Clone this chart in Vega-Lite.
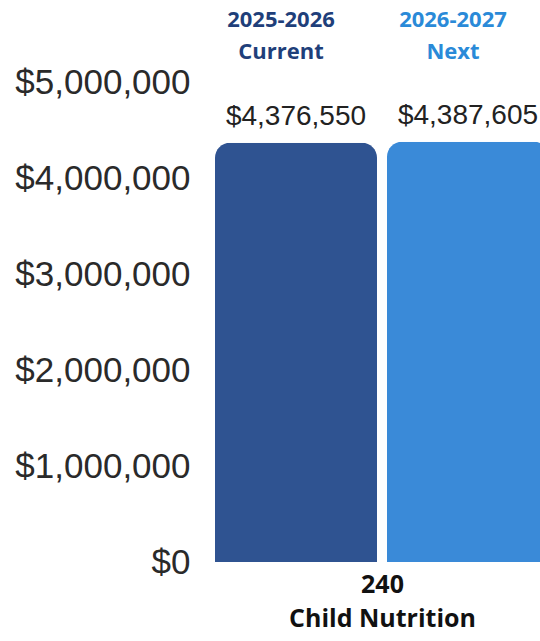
{
  "$schema": "https://vega.github.io/schema/vega-lite/v6.json",
  "autosize": {"type": "none"},
  "width": 335,
  "height": 562,
  "padding": {"left": 205, "top": 0, "right": 0, "bottom": 79},
  "background": "white",
  "config": {"view": {"stroke": null}},
  "data": {
    "values": [
      {"year": "2025-2026", "label": "Current", "amount": 4376550},
      {"year": "2026-2027", "label": "Next", "amount": 4387605}
    ]
  },
  "encoding": {
    "x": {
      "field": "year",
      "type": "nominal",
      "sort": null,
      "scale": {"range": [10, 344], "paddingInner": 0.058, "paddingOuter": 0},
      "axis": {
        "title": ["240", "Child Nutrition"],
        "labels": false,
        "ticks": false,
        "domain": false,
        "titleFont": "Open Sans",
        "titleFontWeight": "bold",
        "titleFontSize": 25,
        "titleColor": "#111111",
        "titleLineHeight": 34,
        "titlePadding": 10
      }
    }
  },
  "layer": [
    {
      "mark": {"type": "bar", "cornerRadiusTopLeft": 15, "cornerRadiusTopRight": 15},
      "encoding": {
        "y": {
          "field": "amount",
          "type": "quantitative",
          "scale": {"domain": [0, 5866000], "nice": false},
          "axis": {
            "title": null,
            "values": [0, 1000000, 2000000, 3000000, 4000000, 5000000],
            "format": "$,.0f",
            "grid": false,
            "domain": false,
            "ticks": false,
            "labelPadding": 15,
            "labelFont": "Liberation Sans",
            "labelFontSize": 35,
            "labelColor": "#2a2a2a"
          }
        },
        "color": {
          "field": "year",
          "type": "nominal",
          "scale": {"domain": ["2025-2026", "2026-2027"], "range": ["#2f5391", "#3a8ad8"]},
          "legend": null
        }
      }
    },
    {
      "mark": {"type": "text", "font": "Liberation Sans", "fontSize": 28, "color": "#222222", "baseline": "alphabetic", "dy": -18},
      "encoding": {
        "y": {"field": "amount", "type": "quantitative"},
        "text": {"field": "amount", "type": "quantitative", "format": "$,.0f"}
      }
    },
    {
      "encoding": {
        "color": {"field": "year", "type": "nominal", "scale": {"domain": ["2025-2026", "2026-2027"], "range": ["#1f3f7a", "#2a8ad8"]}, "legend": null}
      },
      "layer": [
        {
          "mark": {"type": "text", "font": "Open Sans", "fontWeight": "bold", "fontSize": 22, "baseline": "middle", "dx": -15},
          "encoding": {
            "y": {"datum": 5660000, "type": "quantitative"},
            "text": {"field": "year"}
          }
        },
        {
          "mark": {"type": "text", "font": "Open Sans", "fontWeight": "bold", "fontSize": 22, "baseline": "middle", "dx": -15},
          "encoding": {
            "y": {"datum": 5320000, "type": "quantitative"},
            "text": {"field": "label"}
          }
        }
      ]
    }
  ],
  "resolve": {"scale": {"color": "independent"}}
}
